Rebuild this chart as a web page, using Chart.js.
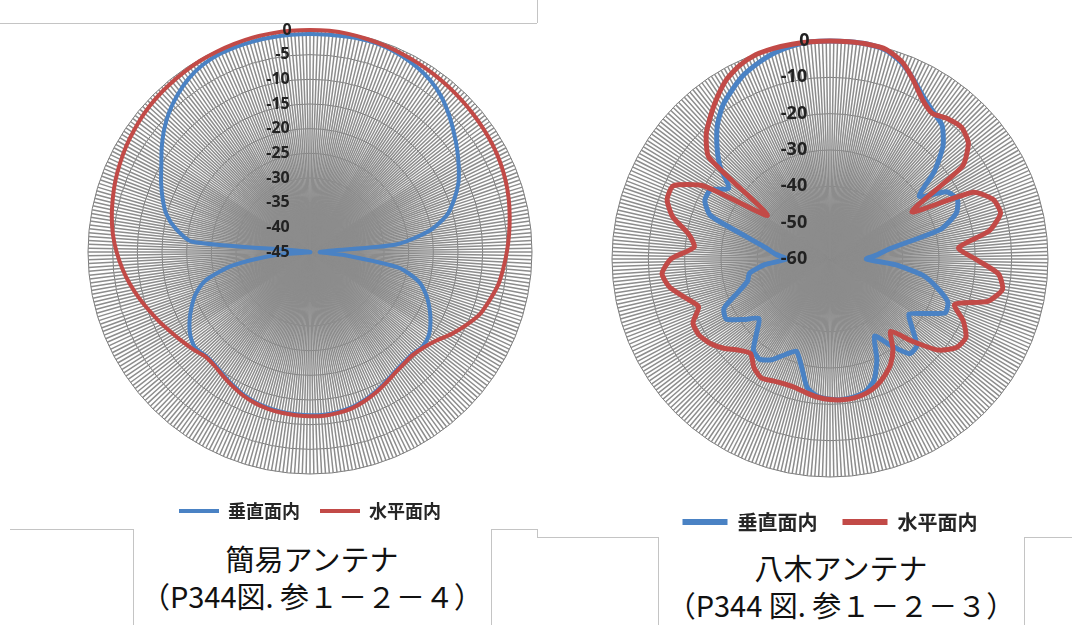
<!DOCTYPE html>
<html lang="ja">
<head>
<meta charset="utf-8">
<script src="https://cdn.jsdelivr.net/npm/chart.js@4.4.1/dist/chart.umd.min.js"></script>
<style>
  body { margin: 0; width: 1072px; height: 625px; background: #fff; position: relative; overflow: hidden; }
  .ln { position: absolute; border-color: #c4c4c4; border-style: solid; border-width: 0; }
  canvas { position: absolute; }
  .title {
    position: absolute;
    text-align: center;
    font-family: "Noto Sans CJK JP", sans-serif;
    font-size: 29px;
    line-height: 37px;
    color: #111;
    white-space: nowrap;
  }
</style>
</head>
<body>
  <!-- frame lines around the two panels -->
  <div class="ln" style="left:0;top:23px;width:537px;border-top-width:1px"></div>
  <div class="ln" style="left:537px;top:0;height:23px;border-left-width:1px"></div>
  <div class="ln" style="left:10px;top:529px;width:123px;border-top-width:1px"></div>
  <div class="ln" style="left:133px;top:529px;height:96px;border-left-width:1px"></div>
  <div class="ln" style="left:491px;top:529px;height:96px;border-left-width:1px"></div>
  <div class="ln" style="left:491px;top:529px;width:46px;border-top-width:1px"></div>
  <div class="ln" style="left:537px;top:529px;height:8px;border-left-width:1px"></div>
  <div class="ln" style="left:537px;top:537px;width:121px;border-top-width:1px"></div>
  <div class="ln" style="left:658px;top:537px;height:88px;border-left-width:1px"></div>
  <div class="ln" style="left:1024px;top:537px;height:88px;border-left-width:1px"></div>
  <div class="ln" style="left:1024px;top:537px;width:48px;border-top-width:1px"></div>

  <canvas id="simple" width="580" height="508" style="left:20px;top:22px"></canvas>
  <canvas id="yagi" width="470" height="510" style="left:595px;top:32px"></canvas>

  <div class="title" style="left:130px;top:540px;width:364px">簡易アンテナ<br>（P344図. 参１－２－４）</div>
  <div class="title" style="left:658px;top:549px;width:366px">八木アンテナ<br>（P344 図. 参１－２－３）</div>

<script>
// one spoke per degree, clockwise from the top
const degrees = Array.from({ length: 360 }, (_, i) => i);
// values below were read every 5 degrees (0, 5, ... 355), in dB
const sampleStep = 5;

const seriesNames = ['垂直面内', '水平面内'];

// 簡易アンテナ
const simpleVert = [
  -0.8, -0.8, -0.7, -0.6, -0.7, -1.1, -1.7, -2.5, -3.7, -5.3, -7.0, -8.6,
  -10.2, -11.8, -13.9, -16.3, -20.5, -27.5, -43, -38, -26.8, -22.3, -20.0, -18.3,
  -16.8, -15.6, -15.2, -15.7, -15.6, -15.2, -14.5, -13.7, -13.0, -12.4, -12.1, -11.9,
  -11.9, -12.0, -12.1, -12.3, -12.6, -13.1, -13.8, -14.5, -15.1, -15.2, -14.7, -15.4,
  -16.8, -18.5, -20.4, -23.3, -29, -38, -45, -21, -17.3, -14.8, -13.2, -11.7,
  -10.2, -8.3, -6.4, -4.7, -3.3, -2.1, -1.3, -0.9, -0.8, -0.8, -0.8, -0.8
];
const simpleHoriz = [
  0, 0, -0.1, -0.3, -0.5, -0.7, -0.9, -1.1, -1.3, -1.5, -1.7, -1.9,
  -2.1, -2.4, -2.8, -3.3, -3.9, -4.5, -5.1, -5.7, -6.3, -7.3, -8.3, -10.0,
  -11.8, -13.7, -14.9, -15.5, -15.4, -15.0, -14.3, -13.5, -12.8, -12.2, -11.9, -11.7,
  -11.7, -11.8, -11.9, -12.1, -12.4, -12.9, -13.6, -14.3, -14.9, -15.0, -14.2, -13.4,
  -12.5, -11.4, -10.3, -9.1, -7.9, -6.8, -5.8, -4.9, -4.2, -3.6, -3.0, -2.5,
  -2.0, -1.6, -1.2, -0.9, -0.7, -0.5, -0.3, -0.2, -0.1, 0, 0, 0
];
const simpleTicks = { min: -45, max: 0, step: 5 };

// 八木アンテナ
const yagiVert = [
  0, 0, 0, -0.5, -2.5, -5.5, -8.5, -10.5, -12, -16, -22.5, -30,
  -23, -21.3, -23, -28.5, -43, -47, -50, -42, -34, -29.5, -25.5, -25,
  -30, -33.5, -30.5, -26.2, -26, -31, -35.5, -29.5, -24.5, -22.3, -21.5, -21.2,
  -21.4, -22, -24, -29.5, -33, -31, -28, -26.3, -27.2, -31.5, -34.5, -31,
  -27, -27.8, -33, -36.5, -37.5, -42, -48, -45, -42, -36, -25, -22,
  -22, -26, -20.5, -16, -11.8, -8.5, -6.2, -4, -2.5, -1.2, -0.4, 0
];
const yagiHoriz = [
  0, 0, 0, -0.3, -2.2, -5.7, -9.2, -11.0, -9.6, -8.8, -10.3, -15.5,
  -34, -16.5, -12.2, -11.4, -15.5, -24.5, -20, -13.5, -11.8, -15, -23.5, -19.5,
  -16.8, -17.5, -21, -28, -34, -29.8, -26.6, -24.5, -22.8, -21.7, -21.2, -21.1,
  -21.3, -21.8, -22.6, -23.3, -23.4, -23, -22.2, -23.5, -26, -24.5, -21.8, -19.6,
  -18.3, -18.4, -21.5, -18.8, -15.2, -13.6, -16.2, -22.5, -20.5, -15.2, -12.3, -12.4,
  -19.8, -39, -16.5, -11.8, -8.8, -5.8, -3, -1.2, -0.2, 0, 0, 0
];
const yagiTicks = { min: -60, max: 0, step: 10 };

const blue = '#4a82c4';
const red = '#c24a47';

// place the 5-degree readings on the 360 spokes; the rest stay empty
function onDegrees(values) {
  return degrees.map(d => (d % sampleStep === 0 ? values[d / sampleStep] : null));
}

// right-align the tick text just left of the vertical spoke
function tickText(v) {
  const s = String(v);
  return '\u2007'.repeat(Math.max(0, 3 - s.length)) + s + '\u2003'.repeat(4);
}

function drawPattern(id, vert, horiz, ticks, look) {
  const line = (label, values, color, order) => ({
    label: label,
    data: onDegrees(values),
    borderColor: color,
    backgroundColor: color,
    borderWidth: look.lineWidth,
    pointRadius: 0,
    fill: false,
    spanGaps: true,
    tension: look.tension,
    order: order
  });

  new Chart(document.getElementById(id), {
    type: 'radar',
    data: {
      labels: degrees,
      datasets: [
        line(seriesNames[0], vert, blue, 1),
        line(seriesNames[1], horiz, red, 0)
      ]
    },
    options: {
      responsive: false,
      animation: false,
      events: [],
      plugins: {
        tooltip: { enabled: false },
        legend: {
          position: 'bottom',
          labels: {
            boxWidth: look.boxWidth,
            boxHeight: look.boxHeight,
            padding: look.legendPad,
            color: '#262626',
            font: { family: '"Noto Sans CJK JP", sans-serif', size: look.legendSize, weight: 'bold' },
            sort: (a, b) => a.datasetIndex - b.datasetIndex,
            generateLabels: chart =>
              Chart.defaults.plugins.legend.labels.generateLabels(chart)
                .map(item => Object.assign(item, { lineWidth: 0, fillStyle: item.strokeStyle }))
          }
        }
      },
      scales: {
        r: {
          min: ticks.min,
          max: ticks.max,
          ticks: {
            stepSize: ticks.step,
            z: 1,
            showLabelBackdrop: false,
            backdropPadding: 0,
            color: '#222',
            font: { family: '"Noto Sans", sans-serif', size: look.tickSize, weight: 'bold', lineHeight: look.tickLine },
            callback: tickText
          },
          grid: { circular: true, color: '#7a7a7a', lineWidth: 1 },
          angleLines: { color: '#8c8c8c', lineWidth: 1.5 },
          pointLabels: { display: false }
        }
      }
    }
  });
}

drawPattern('simple', simpleVert, simpleHoriz, simpleTicks, {
  lineWidth: 4, tension: 0.25, boxWidth: 40, boxHeight: 4, legendPad: 20,
  legendSize: 18, tickSize: 16, tickLine: 1.125
});
drawPattern('yagi', yagiVert, yagiHoriz, yagiTicks, {
  lineWidth: 5, tension: 0.2, boxWidth: 45, boxHeight: 6, legendPad: 25,
  legendSize: 20, tickSize: 18, tickLine: 17 / 18
});
</script>
</body>
</html>
